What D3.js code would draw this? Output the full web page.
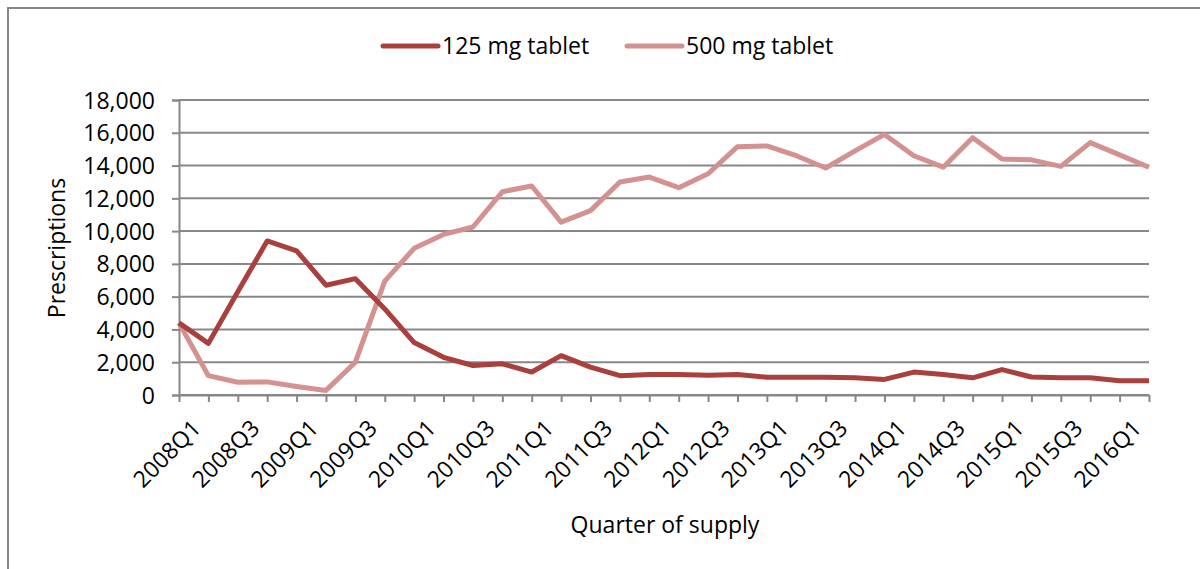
<html>
<head>
<style>
  body { margin: 0; background: #fff; }
  svg text { font-family: "Open Sans", "Noto Sans", sans-serif; fill: #000; }
</style>
</head>
<script src="https://d3js.org/d3.v7.min.js"></script>
<body>
<svg width="1200" height="569"></svg>
<script>
const quarters = ['2008Q1','2008Q2','2008Q3','2008Q4','2009Q1','2009Q2','2009Q3','2009Q4',
  '2010Q1','2010Q2','2010Q3','2010Q4','2011Q1','2011Q2','2011Q3','2011Q4',
  '2012Q1','2012Q2','2012Q3','2012Q4','2013Q1','2013Q2','2013Q3','2013Q4',
  '2014Q1','2014Q2','2014Q3','2014Q4','2015Q1','2015Q2','2015Q3','2015Q4',
  '2016Q1','2016Q2'];
const tab125 = [4400, 3150, 6300, 9400, 8800, 6700, 7100, 5250,
  3200, 2300, 1800, 1900, 1400, 2400, 1700, 1180,
  1250, 1250, 1200, 1250, 1080, 1080, 1080, 1050,
  950, 1400, 1250, 1050, 1550, 1100, 1050, 1050,
  870, 870];
const tab500 = [4400, 1180, 780, 800, 520, 280, 2000, 6950,
  8950, 9800, 10250, 12400, 12750, 10550, 11250, 13000,
  13300, 12650, 13500, 15150, 15200, 14600, 13850, 14900,
  15900, 14600, 13900, 15700, 14400, 14350, 13950, 15400,
  14650, 13900];
const yTicks = [0, 2000, 4000, 6000, 8000, 10000, 12000, 14000, 16000, 18000];
const seriesNames = ['125 mg tablet', '500 mg tablet'];
const seriesColors = ['#a9403e', '#d39190'];

const svg = d3.select('svg');
const plotLeft = 179, plotRight = 1149, plotTop = 100, plotBottom = 395;
const grey = '#878787';
const fs = '23px';

// outer frame (only top and left visible in the original crop)
svg.append('path')
  .attr('d', 'M8,569 L8,8 L1200,8')
  .attr('fill', 'none').attr('stroke', grey).attr('stroke-width', 2);

const x = d3.scalePoint().domain(quarters).range([plotLeft, plotRight]);
const y = d3.scaleLinear().domain([0, 18000]).range([plotBottom, plotTop]);

// gridlines
svg.append('g').selectAll('line')
  .data(yTicks)
  .enter().append('line')
  .attr('x1', plotLeft).attr('x2', plotRight)
  .attr('y1', d => y(d)).attr('y2', d => y(d))
  .attr('stroke', grey).attr('stroke-width', 2);

// y axis
const yAxis = d3.axisLeft(y).tickValues(yTicks).tickSize(7).tickPadding(17)
  .tickFormat(d3.format(','));
const gy = svg.append('g').attr('transform', `translate(${plotLeft},0)`).call(yAxis);
gy.select('.domain').attr('stroke', grey).attr('stroke-width', 2);
gy.selectAll('.tick line').attr('stroke', grey).attr('stroke-width', 2);
gy.selectAll('.tick text').style('font-size', fs).attr('dy', '0.35em');

// x axis
const xAxis = d3.axisBottom(x).tickSize(7).tickSizeOuter(0)
  .tickFormat((d, i) => i % 2 === 0 ? d : '');
const gx = svg.append('g').attr('transform', `translate(0,${plotBottom})`).call(xAxis);
gx.select('.domain').attr('stroke', grey).attr('stroke-width', 2);
gx.selectAll('.tick line').attr('stroke', grey).attr('stroke-width', 2);
gx.selectAll('.tick text')
  .style('font-size', fs)
  .attr('text-anchor', 'end')
  .attr('dy', '0.35em')
  .attr('transform', 'translate(10,22) rotate(-45)');

// lines
const line = d3.line().x((d, i) => x(quarters[i])).y(d => y(d));
[tab500, tab125].forEach((vals, k) => {
  svg.append('path')
    .datum(vals)
    .attr('d', line)
    .attr('fill', 'none')
    .attr('stroke', seriesColors[1 - k])
    .attr('stroke-width', 5)
    .attr('stroke-linejoin', 'round');
});

// legend
const legendX = [383, 627];
seriesNames.forEach((name, i) => {
  const g = svg.append('g').attr('transform', `translate(${legendX[i]},46)`);
  g.append('line').attr('x1', 0).attr('x2', 55).attr('y1', 0).attr('y2', 0)
    .attr('stroke', seriesColors[i]).attr('stroke-width', 5).attr('stroke-linecap', 'round');
  g.append('text').attr('x', 59).attr('dy', '0.35em')
    .style('font-size', fs).text(name);
});

// axis titles
svg.append('text')
  .attr('x', 665).attr('y', 525)
  .attr('text-anchor', 'middle')
  .attr('dy', '0.35em')
  .style('font-size', fs)
  .text('Quarter of supply');

svg.append('text')
  .attr('transform', 'translate(57,248) rotate(-90)')
  .attr('text-anchor', 'middle')
  .attr('dy', '0.35em')
  .style('font-size', fs)
  .text('Prescriptions');
</script>
</body>
</html>
